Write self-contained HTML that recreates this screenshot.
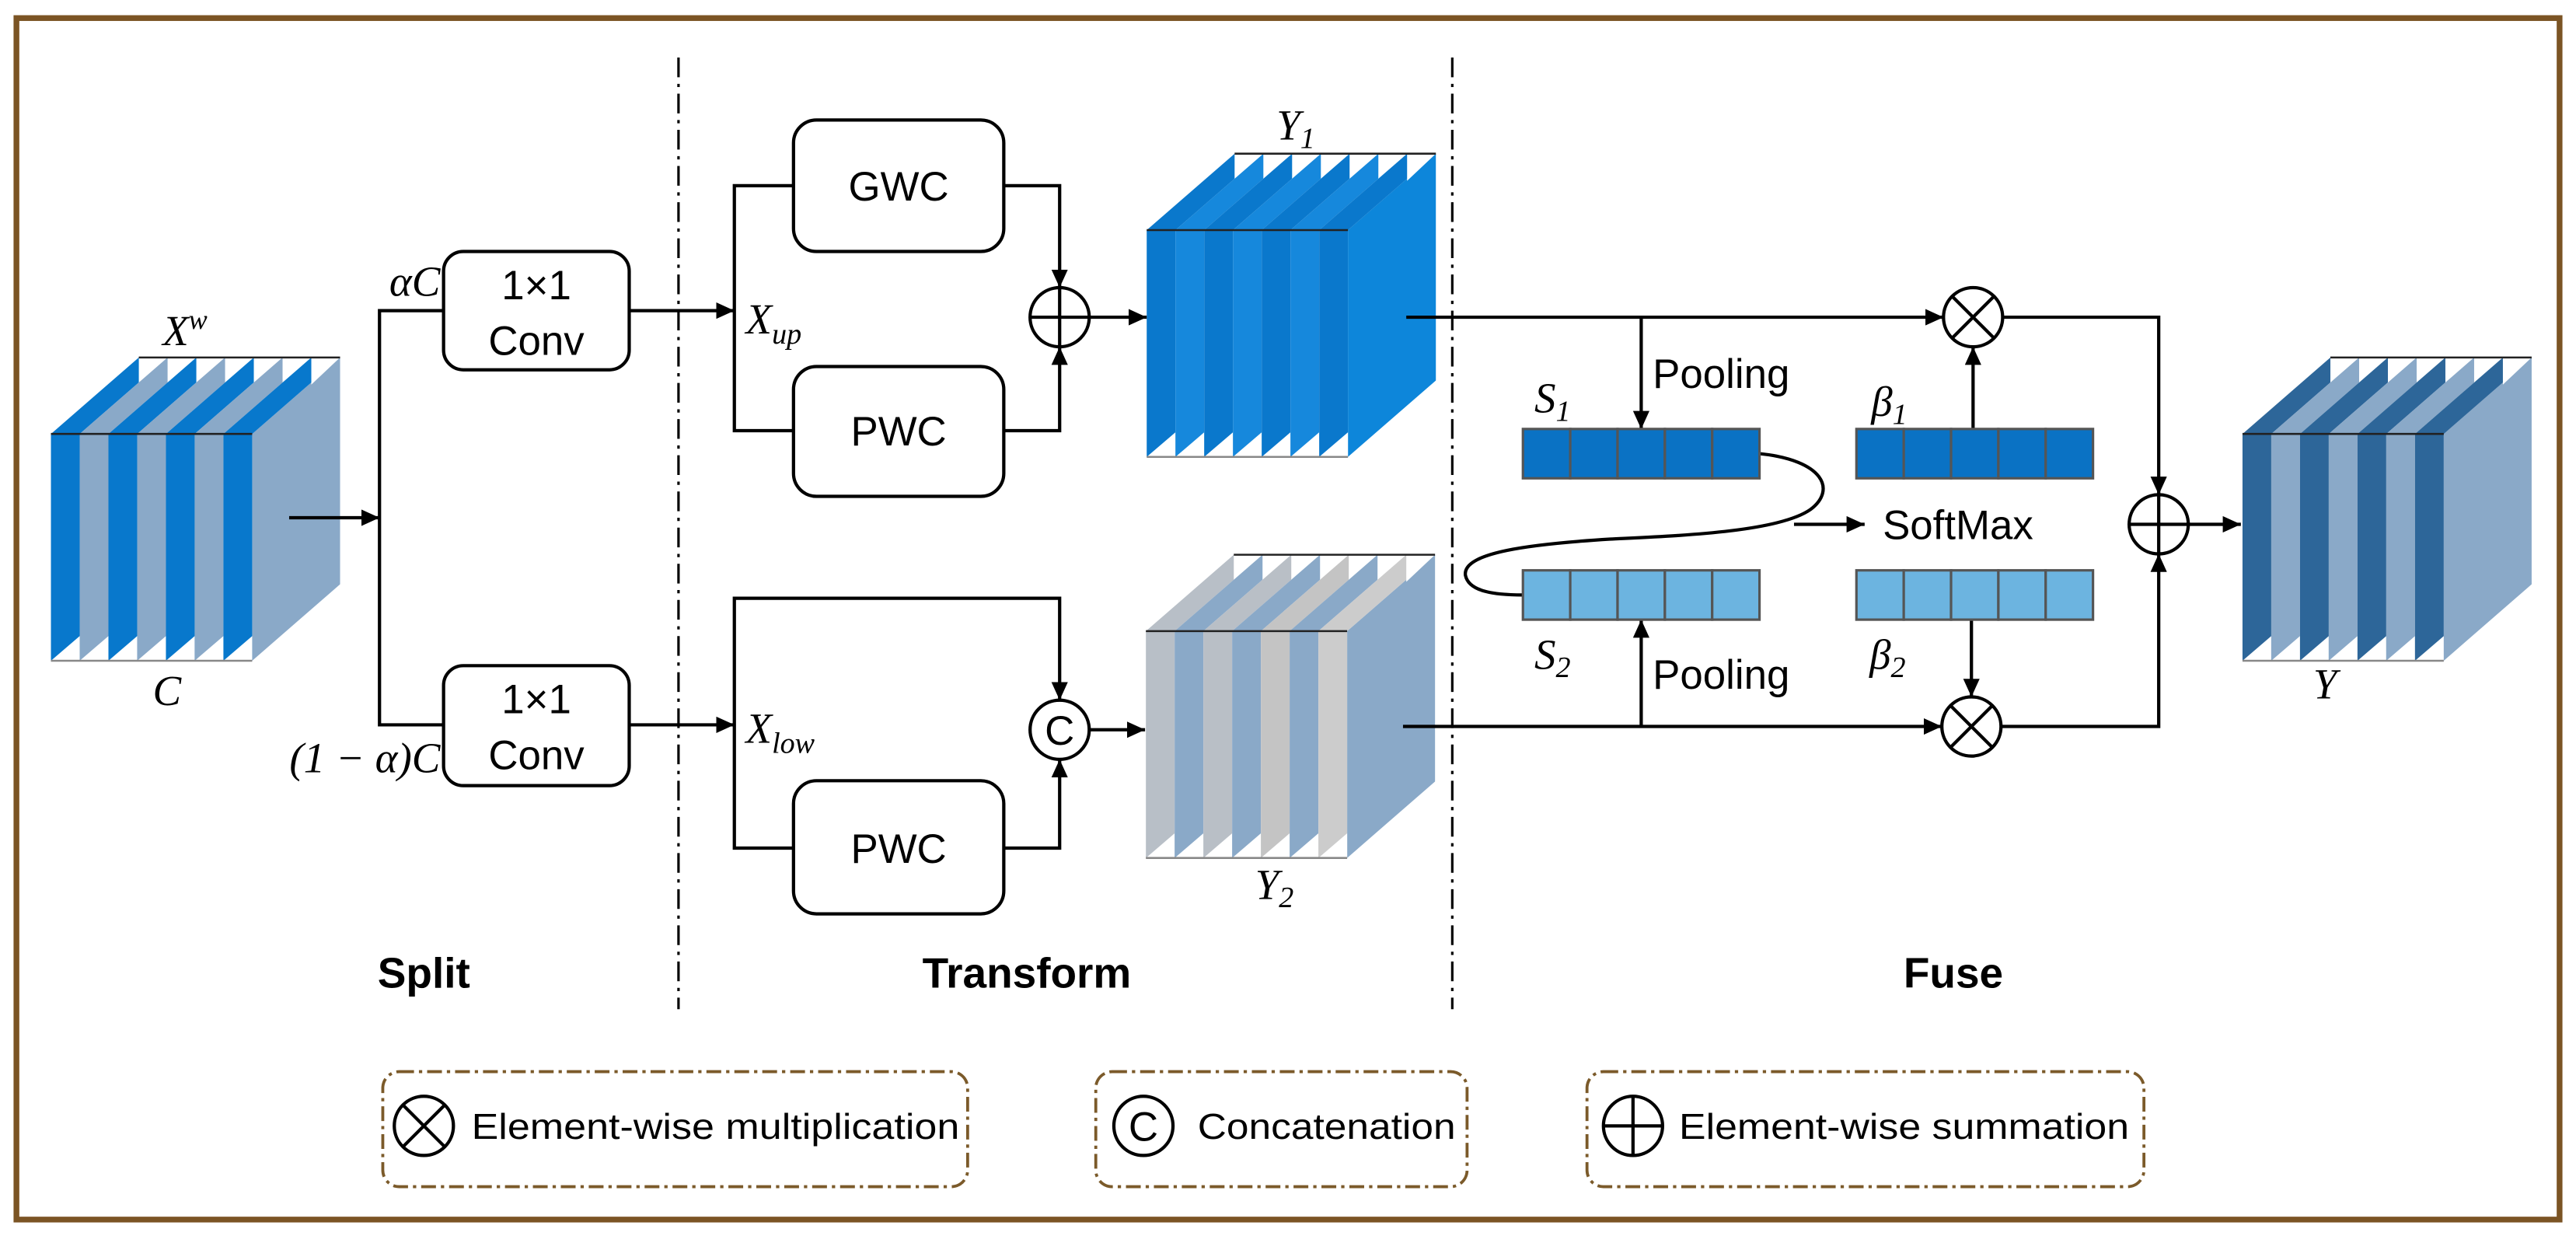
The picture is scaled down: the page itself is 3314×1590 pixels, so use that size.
<!DOCTYPE html>
<html><head><meta charset="utf-8"><style>
html,body{margin:0;padding:0;background:#fff;}
svg{display:block;}
.m{font-family:"Liberation Serif",serif;font-style:italic;}
.s{font-family:"Liberation Sans",sans-serif;}
</style></head><body>
<svg width="3314" height="1590" viewBox="0 0 1568 752" preserveAspectRatio="none" xmlns="http://www.w3.org/2000/svg">
<defs>
<marker id="a" markerUnits="userSpaceOnUse" markerWidth="12" markerHeight="10" refX="11" refY="5" orient="auto"><path d="M0,0 L11,5 L0,10 z" fill="#000"/></marker>
<g id="slab">
<polygon points="0,0 17.5,0 71,-46.5 53.5,-46.5"/>
<rect x="0" y="0" width="17.5" height="138"/>
<polygon points="53.5,-46.5 71,-46.5 53.5,-30" fill="#fff"/>
<polygon points="0,138 17.5,138 17.5,123" fill="#fff"/>
</g>
<polygon id="side" points="122.5,0 176,-46.5 176,91.5 122.5,138"/>
<g id="edges">
<line x1="53.5" y1="-46.5" x2="176" y2="-46.5" stroke="#222" stroke-width="1.2"/>
<line x1="0" y1="0" x2="122.5" y2="0" stroke="#222" stroke-width="1.2"/>
<line x1="0" y1="138" x2="122.5" y2="138" stroke="#888" stroke-width="1.2"/>
</g>
</defs>
<rect x="0" y="0" width="1568" height="752" fill="#fff"/>
<rect x="10" y="11" width="1548" height="731" fill="none" stroke="#7b5424" stroke-width="3.5"/>

<line x1="413" y1="35" x2="413" y2="614" stroke="#000" stroke-width="1.5" stroke-dasharray="12 4 2 4"/>
<line x1="884" y1="35" x2="884" y2="614" stroke="#000" stroke-width="1.5" stroke-dasharray="12 4 2 4"/>

<g transform="translate(31,264)">
<use href="#side" fill="#8aa9c8"/>
<use href="#slab" fill="#0878cc" transform="translate(0,0)"/>
<use href="#slab" fill="#8aa9c8" transform="translate(17.5,0)"/>
<use href="#slab" fill="#0878cc" transform="translate(35,0)"/>
<use href="#slab" fill="#8aa9c8" transform="translate(52.5,0)"/>
<use href="#slab" fill="#0878cc" transform="translate(70,0)"/>
<use href="#slab" fill="#8aa9c8" transform="translate(87.5,0)"/>
<use href="#slab" fill="#0878cc" transform="translate(105,0)"/>
<use href="#edges"/>
</g>
<g transform="translate(698,140)">
<use href="#side" fill="#0d86da"/>
<use href="#slab" fill="#0a78cc" transform="translate(0,0)"/>
<use href="#slab" fill="#1688dc" transform="translate(17.5,0)"/>
<use href="#slab" fill="#0a78cc" transform="translate(35,0)"/>
<use href="#slab" fill="#1688dc" transform="translate(52.5,0)"/>
<use href="#slab" fill="#0a78cc" transform="translate(70,0)"/>
<use href="#slab" fill="#1688dc" transform="translate(87.5,0)"/>
<use href="#slab" fill="#0a78cc" transform="translate(105,0)"/>
<use href="#edges"/>
</g>
<g transform="translate(697.5,384)">
<use href="#side" fill="#8aa9c8"/>
<use href="#slab" fill="#b8bfc7" transform="translate(0,0)"/>
<use href="#slab" fill="#8aa9c8" transform="translate(17.5,0)"/>
<use href="#slab" fill="#b9bfc6" transform="translate(35,0)"/>
<use href="#slab" fill="#8aa9c8" transform="translate(52.5,0)"/>
<use href="#slab" fill="#c4c4c4" transform="translate(70,0)"/>
<use href="#slab" fill="#8aa9c8" transform="translate(87.5,0)"/>
<use href="#slab" fill="#cccccc" transform="translate(105,0)"/>
<use href="#edges"/>
</g>
<g transform="translate(1365,264)">
<use href="#side" fill="#8aa9c8"/>
<use href="#slab" fill="#2d6699" transform="translate(0,0)"/>
<use href="#slab" fill="#8aa9c8" transform="translate(17.5,0)"/>
<use href="#slab" fill="#2d6699" transform="translate(35,0)"/>
<use href="#slab" fill="#8aa9c8" transform="translate(52.5,0)"/>
<use href="#slab" fill="#2d6699" transform="translate(70,0)"/>
<use href="#slab" fill="#8aa9c8" transform="translate(87.5,0)"/>
<use href="#slab" fill="#2d6699" transform="translate(105,0)"/>
<use href="#edges"/>
</g>

<g fill="none" stroke="#000" stroke-width="2">
<line x1="176" y1="315" x2="231" y2="315" marker-end="url(#a)"/>
<polyline points="270,189 231,189 231,441 270,441"/>
<line x1="383" y1="189" x2="447" y2="189" marker-end="url(#a)"/>
<line x1="383" y1="441" x2="447" y2="441" marker-end="url(#a)"/>
<rect x="270" y="153" width="113" height="72" rx="12"/>
<rect x="270" y="405" width="113" height="73" rx="12"/>
<rect x="483" y="73" width="128" height="80" rx="14"/>
<rect x="483" y="223" width="128" height="79" rx="14"/>
<rect x="483" y="475" width="128" height="81" rx="14"/>
<polyline points="483,113 447,113 447,262 483,262"/>
<polyline points="611,113 645,113 645,175" marker-end="url(#a)"/>
<polyline points="611,262 645,262 645,211" marker-end="url(#a)"/>
<line x1="663" y1="193" x2="698" y2="193" marker-end="url(#a)"/>
<circle cx="645" cy="193" r="18"/>
<line x1="627" y1="193" x2="663" y2="193"/><line x1="645" y1="175" x2="645" y2="211"/>
<polyline points="483,516 447,516 447,364 645,364 645,426" marker-end="url(#a)"/>
<polyline points="611,516 645,516 645,462" marker-end="url(#a)"/>
<line x1="663" y1="444" x2="697" y2="444" marker-end="url(#a)"/>
<circle cx="645" cy="444" r="18"/>
<line x1="856" y1="193" x2="1183" y2="193" marker-end="url(#a)"/>
<line x1="999" y1="193" x2="999" y2="261" marker-end="url(#a)"/>
<line x1="854" y1="442" x2="1182" y2="442" marker-end="url(#a)"/>
<line x1="999" y1="442" x2="999" y2="377" marker-end="url(#a)"/>
<line x1="1201" y1="261" x2="1201" y2="211" marker-end="url(#a)"/>
<line x1="1200" y1="377" x2="1200" y2="424" marker-end="url(#a)"/>
<polyline points="1219,193 1314,193 1314,301" marker-end="url(#a)"/>
<polyline points="1218,442 1314,442 1314,337" marker-end="url(#a)"/>
<line x1="1332" y1="319" x2="1364" y2="319" marker-end="url(#a)"/>
<line x1="1092" y1="319" x2="1135" y2="319" marker-end="url(#a)"/>
<path d="M1071,276 C1110,280 1118,298 1102,310 C1082,324 1020,326 980,328 C932,331 890,336 892,350 C894,360 910,362 927,362"/>
<circle cx="1201" cy="193" r="18"/>
<line x1="1188.3" y1="180.3" x2="1213.7" y2="205.7"/><line x1="1213.7" y1="180.3" x2="1188.3" y2="205.7"/>
<circle cx="1200" cy="442" r="18"/>
<line x1="1187.3" y1="429.3" x2="1212.7" y2="454.7"/><line x1="1212.7" y1="429.3" x2="1187.3" y2="454.7"/>
<circle cx="1314" cy="319" r="18"/>
<line x1="1296" y1="319" x2="1332" y2="319"/><line x1="1314" y1="301" x2="1314" y2="337"/>
</g>

<g stroke="#555" stroke-width="1.5">
<g fill="#0a72c4">
<rect x="927" y="261" width="28.8" height="30"/><rect x="955.8" y="261" width="28.8" height="30"/><rect x="984.6" y="261" width="28.8" height="30"/><rect x="1013.4" y="261" width="28.8" height="30"/><rect x="1042.2" y="261" width="28.8" height="30"/>
<rect x="1130" y="261" width="28.8" height="30"/><rect x="1158.8" y="261" width="28.8" height="30"/><rect x="1187.6" y="261" width="28.8" height="30"/><rect x="1216.4" y="261" width="28.8" height="30"/><rect x="1245.2" y="261" width="28.8" height="30"/>
</g>
<g fill="#6cb4e0">
<rect x="927" y="347" width="28.8" height="30"/><rect x="955.8" y="347" width="28.8" height="30"/><rect x="984.6" y="347" width="28.8" height="30"/><rect x="1013.4" y="347" width="28.8" height="30"/><rect x="1042.2" y="347" width="28.8" height="30"/>
<rect x="1130" y="347" width="28.8" height="30"/><rect x="1158.8" y="347" width="28.8" height="30"/><rect x="1187.6" y="347" width="28.8" height="30"/><rect x="1216.4" y="347" width="28.8" height="30"/><rect x="1245.2" y="347" width="28.8" height="30"/>
</g>
</g>

<g class="s" font-size="25" text-anchor="middle" fill="#000">
<text x="326.5" y="182">1×1</text><text x="326.5" y="216">Conv</text>
<text x="326.5" y="434">1×1</text><text x="326.5" y="468">Conv</text>
<text x="547" y="122">GWC</text><text x="547" y="271">PWC</text><text x="547" y="525">PWC</text>
<text x="645" y="453" font-size="25">C</text>
</g>
<g class="s" font-size="25" fill="#000">
<text x="1006" y="236">Pooling</text>
<text x="1006" y="419">Pooling</text>
<text x="1146" y="328">SoftMax</text>
</g>
<g class="m" font-size="26" fill="#000">
<text x="99" y="210">X<tspan font-size="17" dy="-10">w</tspan></text>
<text x="93" y="429">C</text>
<text x="268" y="180" text-anchor="end">αC</text>
<text x="268" y="470" text-anchor="end">(1 − α)C</text>
<text x="454" y="203">X<tspan font-size="18" dy="6">up</tspan></text>
<text x="454" y="452">X<tspan font-size="18" dy="6">low</tspan></text>
<text x="777" y="85">Y<tspan font-size="18" dy="5">1</tspan></text>
<text x="764" y="547">Y<tspan font-size="18" dy="5">2</tspan></text>
<text x="1408" y="425">Y</text>
<text x="934" y="251">S<tspan font-size="18" dy="5">1</tspan></text>
<text x="1139" y="253">β<tspan font-size="18" dy="5">1</tspan></text>
<text x="934" y="407">S<tspan font-size="18" dy="5">2</tspan></text>
<text x="1138" y="407">β<tspan font-size="18" dy="5">2</tspan></text>
</g>
<g class="s" font-size="26" font-weight="bold" text-anchor="middle" fill="#000">
<text x="258" y="601">Split</text>
<text x="625" y="601">Transform</text>
<text x="1189" y="601">Fuse</text>
</g>

<g fill="none" stroke="#7b5a2a" stroke-width="1.8" stroke-dasharray="9 3 2 3">
<rect x="233" y="652" width="356" height="70" rx="10"/>
<rect x="667" y="652" width="226" height="70" rx="10"/>
<rect x="966" y="652" width="339" height="70" rx="10"/>
</g>
<g fill="none" stroke="#000" stroke-width="2">
<circle cx="258" cy="685" r="18"/>
<line x1="245.3" y1="672.3" x2="270.7" y2="697.7"/><line x1="270.7" y1="672.3" x2="245.3" y2="697.7"/>
<circle cx="696" cy="685" r="18"/>
<circle cx="994" cy="685" r="18"/>
<line x1="976" y1="685" x2="1012" y2="685"/><line x1="994" y1="667" x2="994" y2="703"/>
</g>
<g class="s" font-size="22" fill="#000">
<text x="696" y="694" text-anchor="middle" font-size="25">C</text>
<text x="287" y="693" textLength="297" lengthAdjust="spacingAndGlyphs">Element-wise multiplication</text>
<text x="729" y="693" textLength="157" lengthAdjust="spacingAndGlyphs">Concatenation</text>
<text x="1022" y="693" textLength="274" lengthAdjust="spacingAndGlyphs">Element-wise summation</text>
</g>
</svg>
</body></html>
